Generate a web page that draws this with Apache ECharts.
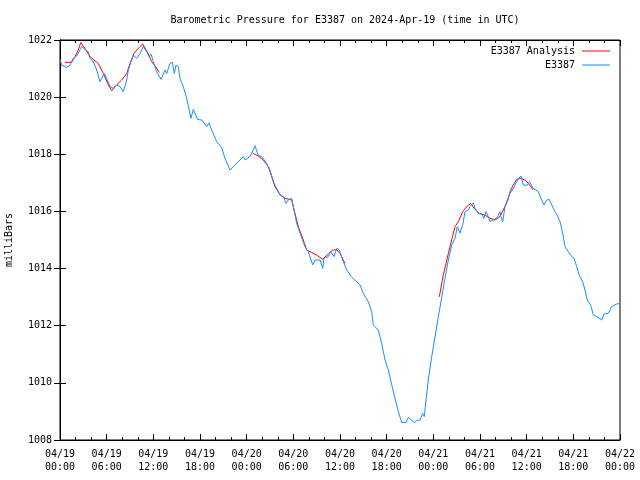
<!DOCTYPE html>
<html>
<head>
<meta charset="utf-8">
<script src="https://cdn.jsdelivr.net/npm/echarts@6/dist/echarts.min.js"></script>
<style>html,body{margin:0;padding:0;background:#fff}#c{width:640px;height:480px}</style>
</head>
<body>
<div id="c"></div>
<script>
// Hours since 2024-04-19 00:00 UTC
var stationHours = [0,0.22,0.86,1.29,1.71,2.15,2.79,3.0,3.3,3.64,3.86,4.28,4.72,5.14,5.36,5.7,6.0,6.43,6.85,7.29,7.71,8.14,8.36,8.58,8.78,9.42,9.86,10.29,10.71,11.15,11.44,11.7,12.0,12.43,12.99,13.5,13.72,14.14,14.44,14.7,14.91,15.21,15.43,15.85,16.29,16.84,17.14,17.7,18.22,18.86,19.16,19.5,20.15,20.79,21.21,21.86,22.28,22.92,23.57,23.79,24.43,24.85,25.07,25.49,25.93,26.58,27.0,27.42,27.86,28.29,28.71,29.06,29.35,29.79,30.0,30.43,30.86,31.5,31.92,32.49,32.79,33.43,33.78,33.94,34.5,34.8,35.23,35.58,35.91,36.42,36.86,37.5,38.15,38.57,39.0,39.64,40.08,40.28,40.92,41.36,41.79,42.21,42.65,43.07,43.5,43.93,44.49,44.78,45.22,45.55,45.86,46.29,46.63,46.84,47.06,47.35,47.79,48.21,48.64,49.08,49.5,49.93,50.36,50.79,51.08,51.43,51.78,52.07,52.5,52.71,53.14,53.36,53.78,54.22,54.51,54.77,55.07,55.29,55.71,55.93,56.22,56.57,56.7,56.92,57.21,57.51,57.86,58.28,58.72,59.01,59.27,59.57,60.08,60.34,60.85,61.5,61.93,62.23,62.57,62.91,63.22,63.64,63.94,64.29,64.63,64.93,65.35,65.79,66.09,66.43,66.77,67.2,67.5,67.79,68.23,68.57,69.0,69.34,69.65,69.94,70.5,70.93,71.58,72.0];
var stationValues = [1021.32,1021.12,1021.04,1021.12,1021.36,1021.44,1021.77,1021.82,1021.65,1021.59,1021.36,1021.24,1020.95,1020.54,1020.66,1020.83,1020.66,1020.37,1020.31,1020.43,1020.37,1020.19,1020.25,1020.6,1020.95,1021.47,1021.36,1021.53,1021.77,1021.59,1021.42,1021.51,1021.24,1020.89,1020.62,1020.95,1020.83,1021.18,1021.22,1020.83,1021.12,1021.07,1020.66,1020.37,1019.96,1019.26,1019.57,1019.22,1019.2,1018.97,1019.1,1018.85,1018.44,1018.24,1017.86,1017.45,1017.57,1017.74,1017.92,1017.8,1017.92,1018.15,1018.3,1017.97,1017.92,1017.68,1017.45,1017.04,1016.81,1016.58,1016.52,1016.28,1016.4,1016.46,1016.17,1015.58,1015.24,1014.77,1014.59,1014.13,1014.3,1014.3,1014.0,1014.36,1014.42,1014.59,1014.42,1014.71,1014.65,1014.24,1013.95,1013.7,1013.54,1013.43,1013.13,1012.84,1012.49,1012.02,1011.85,1011.38,1010.8,1010.45,1009.93,1009.46,1009.0,1008.61,1008.61,1008.79,1008.7,1008.61,1008.68,1008.7,1008.93,1008.82,1009.4,1010.1,1010.91,1011.6,1012.3,1013.0,1013.66,1014.3,1014.83,1015.06,1015.47,1015.24,1015.53,1015.99,1016.05,1016.17,1016.3,1016.11,1015.93,1015.91,1015.76,1015.99,1015.82,1015.64,1015.7,1015.64,1015.79,1015.99,1015.82,1015.64,1016.17,1016.4,1016.63,1016.81,1017.04,1017.16,1017.24,1016.92,1016.92,1017.04,1016.81,1016.69,1016.4,1016.23,1016.4,1016.42,1016.23,1015.99,1015.87,1015.64,1015.24,1014.77,1014.59,1014.42,1014.36,1014.07,1013.77,1013.54,1013.25,1012.9,1012.72,1012.38,1012.32,1012.26,1012.2,1012.41,1012.43,1012.67,1012.76,1012.78];

var analysisHours1 = [0.64,1.5,1.93,2.35,2.66,3.21,3.86,4.28,4.92,5.57,6.21,6.65,7.29,7.93,8.58,9.0,9.51,10.07,10.63,11.22,11.79,12.43,12.77];
var analysisValues1 = [1021.22,1021.22,1021.42,1021.65,1021.91,1021.71,1021.42,1021.32,1021.18,1020.83,1020.43,1020.23,1020.43,1020.6,1020.83,1021.18,1021.53,1021.71,1021.86,1021.59,1021.24,1021.01,1020.86];
var analysisHours2 = [24.85,25.49,26.14,26.78,27.09,27.64,28.29,28.93,29.79,30.21,30.64,31.2,31.72,32.36,33.0,33.78,34.5,35.06,35.58,36.0,36.64];
var analysisValues2 = [1018.03,1017.94,1017.8,1017.57,1017.33,1016.87,1016.58,1016.46,1016.4,1015.93,1015.47,1015.06,1014.65,1014.56,1014.47,1014.33,1014.51,1014.65,1014.65,1014.53,1014.18];
var analysisHours3 = [48.77,49.28,49.93,50.36,50.79,51.21,51.78,52.29,52.8,53.36,53.91,54.64,55.29,55.93,56.57,57.0,57.59,57.86,58.28,58.72,59.14,59.79,60.21,60.85];
var analysisValues3 = [1013.01,1013.77,1014.53,1015.0,1015.47,1015.64,1015.99,1016.17,1016.28,1016.07,1015.93,1015.87,1015.76,1015.7,1015.82,1016.05,1016.4,1016.69,1016.92,1017.12,1017.16,1017.1,1016.98,1016.75];

var dayLabels = ['04/19','04/20','04/21','04/22'];
var titleText = 'Barometric Pressure for E3387 on 2024-Apr-19 (time in UTC)';

function pairs(h, v) { return h.map(function (x, i) { return [x, v[i]]; }); }
var stationData = pairs(stationHours, stationValues);
var analysisData = pairs(analysisHours1, analysisValues1)
  .concat([[18, '-']])
  .concat(pairs(analysisHours2, analysisValues2))
  .concat([[42, '-']])
  .concat(pairs(analysisHours3, analysisValues3));

var FONT = 'DejaVu Sans Mono';
function fmtX(v) {
  var d = Math.floor(v / 24), h = Math.round(v - d * 24);
  return dayLabels[d] + '\n' + (h < 10 ? '0' : '') + h + ':00';
}

var chart = echarts.init(document.getElementById('c'), null, {renderer: 'canvas'});
chart.setOption({
  animation: false,
  backgroundColor: '#ffffff',
  textStyle: {fontFamily: FONT},
  title: {
    text: titleText, left: 340, top: 10, textAlign: 'center',
    textStyle: {fontFamily: FONT, fontSize: 10, fontWeight: 'normal', color: '#000'}
  },
  legend: [
    {data: ['E3387 Analysis'], right: 25, top: 41, orient: 'vertical', align: 'right',
     icon: 'rect', itemWidth: 28, itemHeight: 1, itemGap: 4,
     textStyle: {fontFamily: FONT, fontSize: 10, color: '#000', padding: [0, 2, 0, 0]}},
    {data: ['E3387'], right: 25, top: 55, orient: 'vertical', align: 'right',
     icon: 'rect', itemWidth: 28, itemHeight: 1, itemGap: 4,
     textStyle: {fontFamily: FONT, fontSize: 10, color: '#000', padding: [0, 2, 0, 0]}}
  ],
  grid: {left: 60, right: 20, top: 40, bottom: 40, show: true, borderColor: '#000', borderWidth: 1,
         containLabel: false, outerBoundsMode: 'none'},
  xAxis: [
    {type: 'value', min: 0, max: 72, interval: 6, position: 'bottom',
     axisLine: {show: true, lineStyle: {color: '#000', width: 1}},
     axisTick: {show: true, inside: true, length: 6, lineStyle: {color: '#000'}},
     minorTick: {show: true, splitNumber: 3, length: 3, lineStyle: {color: '#000'}},
     splitLine: {show: false},
     axisLabel: {formatter: fmtX, fontFamily: FONT, fontSize: 10, color: '#000', margin: 8, lineHeight: 13,
                 showMinLabel: true, showMaxLabel: true, hideOverlap: false}},
    {type: 'value', min: 0, max: 72, interval: 6, position: 'top',
     axisLine: {show: true, lineStyle: {color: '#000', width: 1}},
     axisTick: {show: true, inside: true, length: 6, lineStyle: {color: '#000'}},
     minorTick: {show: true, splitNumber: 3, length: 3, lineStyle: {color: '#000'}},
     splitLine: {show: false}, axisLabel: {show: false}}
  ],
  yAxis: [
    {type: 'value', min: 1008, max: 1022, interval: 2, position: 'left',
     name: 'milliBars', nameLocation: 'middle', nameGap: 46,
     nameTextStyle: {fontFamily: FONT, fontSize: 10, color: '#000'},
     axisLine: {show: true, lineStyle: {color: '#000', width: 1}},
     axisTick: {show: true, inside: true, length: 6, lineStyle: {color: '#000'}},
     splitLine: {show: false},
     axisLabel: {fontFamily: FONT, fontSize: 10, color: '#000', margin: 8,
                 formatter: function (v) { return String(v); }}},
    {type: 'value', min: 1008, max: 1022, interval: 2, position: 'right',
     axisLine: {show: true, lineStyle: {color: '#000', width: 1}},
     axisTick: {show: true, inside: true, length: 6, lineStyle: {color: '#000'}},
     splitLine: {show: false}, axisLabel: {show: false}}
  ],
  series: [
    {name: 'E3387 Analysis', type: 'line', data: analysisData, symbol: 'none', connectNulls: false,
     xAxisIndex: 0, yAxisIndex: 0,
     lineStyle: {color: '#ff0000', width: 1}, itemStyle: {color: '#ff0000'}},
    {name: 'E3387', type: 'line', data: stationData, symbol: 'none',
     xAxisIndex: 0, yAxisIndex: 0,
     lineStyle: {color: '#1a8cff', width: 1}, itemStyle: {color: '#1a8cff'}}
  ]
});
</script>
</body>
</html>
